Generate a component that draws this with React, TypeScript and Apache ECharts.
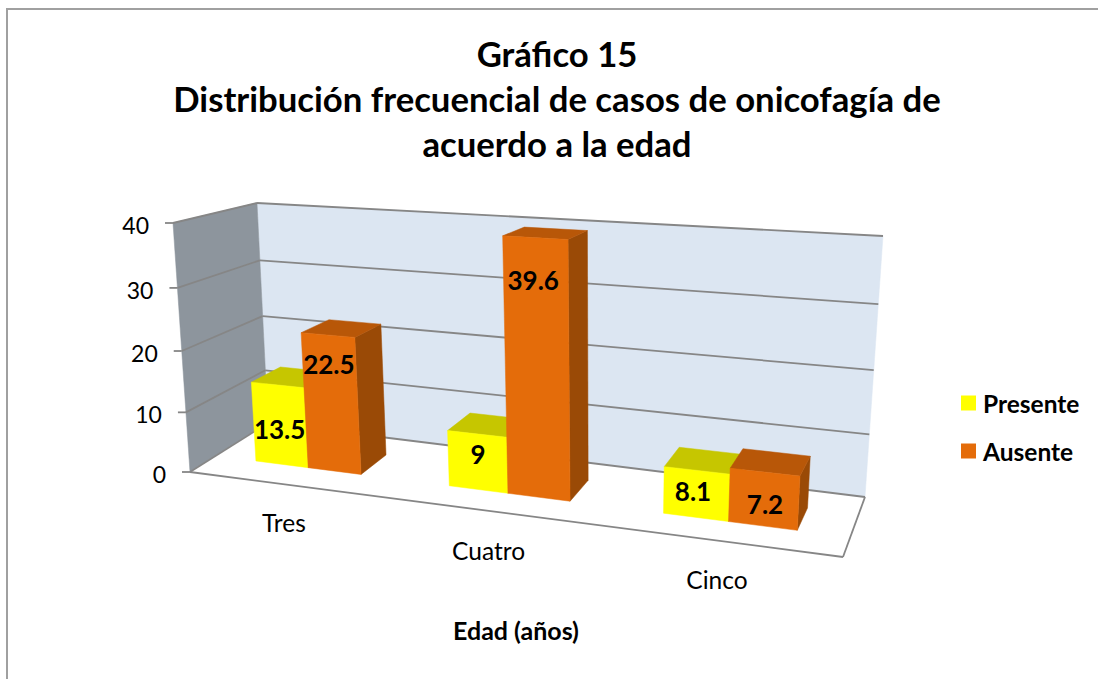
import React, { useEffect, useRef } from "react";
import * as echarts from "echarts";

const categories = ["Tres", "Cuatro", "Cinco"];
const yTicks = [0, 10, 20, 30, 40];
const seriesNames = ["Presente", "Ausente"];
// Bar heights as drawn in the picture (in Cinco the drawn heights are swapped against the printed labels).
const presente = [13.5, 9, 7.2];
const ausente = [22.5, 39.6, 8.1];
// Labels as printed in the picture.
const presenteLabels = ["13.5", "9", "8.1"];
const ausenteLabels = ["22.5", "39.6", "7.2"];

const FONT = "Lato, Carlito, Calibri, sans-serif";
const GRID = { left: 190, top: 223, width: 650, height: 249 };
// The picture's bars grow faster towards the right than its floor does: per-category layout tuning, in band units.
const barLeftFraction = [0.26, 0.28, 0.297];
const barRightFraction = [0.26, 0.293, 0.31];
const barCenterShift = [-0.038, -0.07, -0.046];
const categoryLabelShift = [-9, -17, -11];
const D_FRONT = 0.31;
const D_BACK = 0.69;
const labelShifts = [
  [[2, 44], [1, 20], [-4, 21]],
  [[1, 29], [-2, 42], [0, 32]],
];
const faces = [
  { front: "#FFFF00", top: "#C6C600", side: "#A8A800" },
  { front: "#E46C0A", top: "#B85708", side: "#9A4A06" },
];

type Pt = [number, number];

function quadMap(p0: Pt, p1: Pt, p2: Pt, p3: Pt) {
  const dx1 = p1[0] - p2[0], dx2 = p3[0] - p2[0], sx = p0[0] - p1[0] + p2[0] - p3[0];
  const dy1 = p1[1] - p2[1], dy2 = p3[1] - p2[1], sy = p0[1] - p1[1] + p2[1] - p3[1];
  const den = dx1 * dy2 - dx2 * dy1;
  const g = (sx * dy2 - dx2 * sy) / den;
  const h = (dx1 * sy - sx * dy1) / den;
  const a = p1[0] - p0[0] + g * p1[0], b = p3[0] - p0[0] + h * p3[0];
  const d = p1[1] - p0[1] + g * p1[1], e = p3[1] - p0[1] + h * p3[1];
  return (u: number, v: number): Pt => {
    const w = g * u + h * v + 1;
    return [(a * u + b * v + p0[0]) / w, (d * u + e * v + p0[1]) / w];
  };
}

const floorMap = quadMap([190, 472], [843, 557], [865, 497], [268, 423]);
const ceilMap = quadMap([173, 223], [862, 262], [883, 236], [257, 203]);

// u: 0..1 across, t: 0..1 up, d: 0 front .. 1 back
function project(u: number, t: number, d: number): Pt {
  const f = floorMap(u, d), c = ceilMap(u, d);
  const k = t / (t + (1 - t) * 1.058);
  return [f[0] + (c[0] - f[0]) * k, f[1] + (c[1] - f[1]) * k];
}

const poly = (points: Pt[], fill: string) => ({
  type: "polygon", shape: { points }, style: { fill, stroke: fill, lineWidth: 0.5 }, silent: true,
});
const seg = (a: Pt, b: Pt, stroke = "#868686", lineWidth = 1.8) => ({
  type: "line", shape: { x1: a[0], y1: a[1], x2: b[0], y2: b[1] }, style: { stroke, lineWidth }, silent: true,
});
const txt = (text: string, x: number, y: number, fontSize: number, fontWeight: string, align = "center") => ({
  type: "text", silent: true,
  style: { text, x, y, fontSize, fontWeight, fontFamily: FONT, fill: "#000", align, verticalAlign: "middle" },
});

function normOf(params: any, api: any, cat: number, value: number) {
  const cs = params.coordSys;
  const c = api.coord([cat, value]);
  return { u: (c[0] - cs.x) / cs.width, t: (cs.y + cs.height - c[1]) / cs.height };
}

function barSeries(sIdx: number, values: number[], labels: string[]) {
  return {
    type: "custom", name: seriesNames[sIdx], z: 5, silent: true,
    itemStyle: { color: faces[sIdx].front },
    data: values.map((v, i) => [i, v]),
    renderItem(params: any, api: any) {
      const i = api.value(0), v = api.value(1);
      const cs = params.coordSys;
      const { u, t } = normOf(params, api, i, v);
      const band = api.size([1, 0])[0] / cs.width;
      const mid = u + band * barCenterShift[i];
      const u0 = sIdx === 0 ? mid - band * barLeftFraction[i] : mid;
      const u1 = sIdx === 0 ? mid : mid + band * barRightFraction[i];
      const f = faces[sIdx];
      const anchor = project((u0 + u1) / 2, t, D_FRONT);
      const sh = labelShifts[sIdx][i];
      return {
        type: "group",
        children: [
          poly([project(u1, 0, D_FRONT), project(u1, 0, D_BACK), project(u1, t, D_BACK), project(u1, t, D_FRONT)], f.side),
          poly([project(u0, t, D_FRONT), project(u1, t, D_FRONT), project(u1, t, D_BACK), project(u0, t, D_BACK)], f.top),
          poly([project(u0, 0, D_FRONT), project(u1, 0, D_FRONT), project(u1, t, D_FRONT), project(u0, t, D_FRONT)], f.front),
          txt(labels[i], anchor[0] + sh[0], anchor[1] + sh[1], 26, "bold"),
        ],
      };
    },
  };
}

export default function App() {
  const ref = useRef<HTMLDivElement>(null);
  useEffect(() => {
    document.body.style.margin = "0";
    const chart = echarts.init(ref.current!, null, { renderer: "svg" });
    chart.setOption({
      animation: false,
      backgroundColor: "#ffffff",
      title: {
        text: "Gráfico 15\nDistribución frecuencial de casos de onicofagía de\nacuerdo a la edad",
        left: 552, top: 26, textAlign: "center",
        textStyle: { fontFamily: FONT, fontWeight: "bold", fontSize: 34.7, lineHeight: 45, color: "#000" },
      },
      legend: {
        data: seriesNames.map((name) => ({ name, icon: "rect" })),
        orient: "vertical", left: 956, top: 385, itemWidth: 15, itemHeight: 15, itemGap: 22,
        selectedMode: false,
        textStyle: { fontFamily: FONT, fontWeight: "bold", fontSize: 24.5, lineHeight: 26, color: "#000", padding: [0, 0, 0, 2] },
      },
      grid: { ...GRID, show: false },
      xAxis: { type: "category", data: categories, show: false },
      yAxis: { type: "value", min: 0, max: 40, interval: 10, show: false },
      graphic: [
        { type: "rect", z: 0, shape: { x: 7, y: 9, width: 1300, height: 900 }, style: { fill: "#fff", stroke: "#A0A0A0", lineWidth: 2 }, silent: true },
        { type: "text", z: 10, x: 516, y: 630, style: { text: "Edad (años)", fontFamily: FONT, fontSize: 25, fontWeight: "bold", fill: "#000", align: "center", verticalAlign: "middle" }, silent: true },
      ],
      series: [
        {
          type: "custom", name: "walls", z: 2, silent: true, data: [[0, 0]],
          renderItem() {
            return {
              type: "group",
              children: [
                poly([project(0, 0, 1), project(1, 0, 1), project(1, 1, 1), project(0, 1, 1)], "#DCE6F2"),
                poly([project(0, 0, 0), project(0, 0, 1), project(0, 1, 1), project(0, 1, 0)], "#8D959D"),
                poly([project(0, 0, 0), project(1, 0, 0), project(1, 0, 1), project(0, 0, 1)], "#FFFFFF"),
                seg(project(0, 0, 0), project(1, 0, 0)),
                seg(project(1, 0, 0), project(1, 0, 1)),
              ],
            };
          },
        },
        {
          type: "custom", name: "valueTicks", z: 3, silent: true,
          data: yTicks.map((v) => [0, v]),
          renderItem(params: any, api: any) {
            const v = api.value(1);
            const t = normOf(params, api, 0, v).t;
            const a = project(0, t, 0);
            return {
              type: "group",
              children: [
                seg([a[0] - 8, a[1]], a),
                seg(a, project(0, t, 1)),
                seg(project(0, t, 1), project(1, t, 1)),
                txt(String(v), a[0] - 24, a[1] + 2, 23, "normal", "right"),
              ],
            };
          },
        },
        {
          type: "custom", name: "categoryLabels", z: 3, silent: true,
          data: categories.map((_, i) => [i, 0]),
          renderItem(params: any, api: any) {
            const i = api.value(0);
            const p = project(normOf(params, api, i, 0).u, 0, 0);
            return txt(categories[i], p[0] + categoryLabelShift[i], p[1] + 37, 24.5, "normal");
          },
        },
        barSeries(0, presente, presenteLabels),
        barSeries(1, ausente, ausenteLabels),
      ],
    });
    return () => chart.dispose();
  }, []);
  return <div ref={ref} style={{ width: 1098, height: 679 }} />;
}
